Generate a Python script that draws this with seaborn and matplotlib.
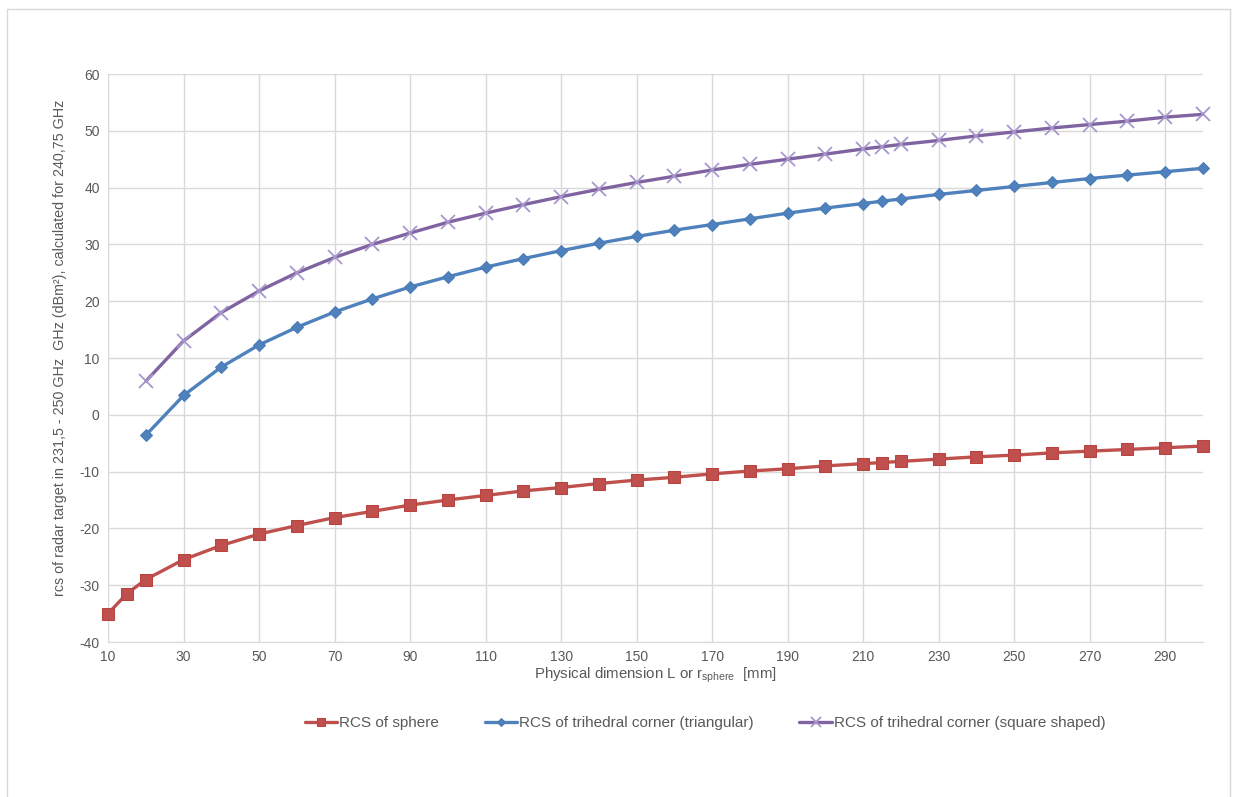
import numpy as np
import pandas as pd
import matplotlib
matplotlib.use("Agg")
import matplotlib.pyplot as plt
import seaborn as sns

# Values
sphere_r = [10, 15, 20, 30, 40, 50, 60, 70, 80, 90, 100, 110, 120, 130, 140, 150,
            160, 170, 180, 190, 200, 210, 215, 220, 230, 240, 250, 260, 270, 280, 290, 300]
sphere_rcs = [-35.0, -31.5, -29.0, -25.5, -23.0, -21.0, -19.5, -18.1, -17.0, -15.9,
              -15.0, -14.2, -13.4, -12.8, -12.1, -11.5, -11.0, -10.4, -9.9, -9.5,
              -9.0, -8.6, -8.4, -8.2, -7.8, -7.4, -7.1, -6.7, -6.4, -6.1, -5.8, -5.5]

corner_L = [20, 30, 40, 50, 60, 70, 80, 90, 100, 110, 120, 130, 140, 150, 160, 170,
            180, 190, 200, 210, 215, 220, 230, 240, 250, 260, 270, 280, 290, 300]
tri_rcs = [-3.6, 3.4, 8.4, 12.3, 15.4, 18.1, 20.4, 22.5, 24.3, 26.0, 27.5, 28.9,
           30.2, 31.4, 32.5, 33.5, 34.5, 35.5, 36.4, 37.2, 37.6, 38.0, 38.8, 39.5,
           40.2, 40.9, 41.6, 42.2, 42.8, 43.4]
sq_rcs = [5.9, 13.0, 18.0, 21.8, 25.0, 27.7, 30.0, 32.0, 33.9, 35.5, 37.0, 38.4,
          39.7, 40.9, 42.0, 43.1, 44.1, 45.0, 45.9, 46.8, 47.2, 47.6, 48.3, 49.1,
          49.8, 50.5, 51.1, 51.7, 52.4, 52.9]

labels = ["RCS of sphere",
          "RCS of trihedral corner (triangular)",
          "RCS of trihedral corner (square shaped)"]
x_ticks = list(range(10, 300, 20))
y_ticks = list(range(-40, 61, 10))

sns.set_style("white")
plt.rcParams['font.family'] = ['Liberation Sans', 'DejaVu Sans']
plt.rcParams['axes.unicode_minus'] = False

fig = plt.figure(figsize=(12.39, 7.97), dpi=100)
ax = fig.add_axes([108 / 1239, 1 - 642 / 797, (1203 - 108) / 1239, (642 - 74) / 797])

df_s = pd.DataFrame({'x': sphere_r, 'y': sphere_rcs})
df_t = pd.DataFrame({'x': corner_L, 'y': tri_rcs})
df_q = pd.DataFrame({'x': corner_L, 'y': sq_rcs})

sns.lineplot(data=df_s, x='x', y='y', ax=ax, color='#C0504D', linewidth=2.4,
             marker='s', markersize=8, markeredgecolor='#B8433F', label=labels[0],
             clip_on=False)
sns.lineplot(data=df_t, x='x', y='y', ax=ax, color='#4F81BD', linewidth=2.4,
             marker='D', markersize=6, markeredgecolor='#4A7BB7', label=labels[1],
             clip_on=False)
sns.lineplot(data=df_q, x='x', y='y', ax=ax, color='#8064A2', linewidth=2.4,
             marker='x', markersize=10, markeredgecolor='#A797CC', markeredgewidth=1.3,
             label=labels[2], clip_on=False)

ax.set_xlim(10, 300)
ax.set_ylim(-40, 60)
ax.set_xticks(x_ticks)
ax.set_yticks(y_ticks)
ax.grid(True, color='#D9D9D9', linewidth=1)
ax.set_axisbelow(True)
for s in ['top', 'right', 'left']:
    ax.spines[s].set_visible(False)
ax.spines['bottom'].set_color('#D9D9D9')
ax.tick_params(axis='both', length=0, labelsize=10, colors='#595959', pad=6)

ax.set_xlabel(r'Physical dimension L or r$_{\mathregular{sphere}}$  [mm]',
              fontsize=10.8, color='#595959', labelpad=1)
ax.set_ylabel('rcs of radar target in 231,5 - 250 GHz  GHz (dBm²), calculated for 240,75 GHz',
              fontsize=10.3, color='#595959')
ax.yaxis.set_label_coords(-0.037, 0.518)

leg = ax.legend(loc='center', bbox_to_anchor=(705 / 1239, 1 - 723 / 797),
                bbox_transform=fig.transFigure, ncol=3, frameon=False,
                fontsize=11, labelcolor='#595959', handlelength=2.1,
                columnspacing=3.0, handletextpad=0.15, markerscale=0.7)

# outer chart border
fig.add_artist(plt.Rectangle((7 / 1239, -0.01), (1230 - 7) / 1239, 1 - 9 / 797 + 0.01,
                             transform=fig.transFigure, fill=False,
                             edgecolor='#D9D9D9', linewidth=1))

fig.savefig('out.png', dpi=100)
